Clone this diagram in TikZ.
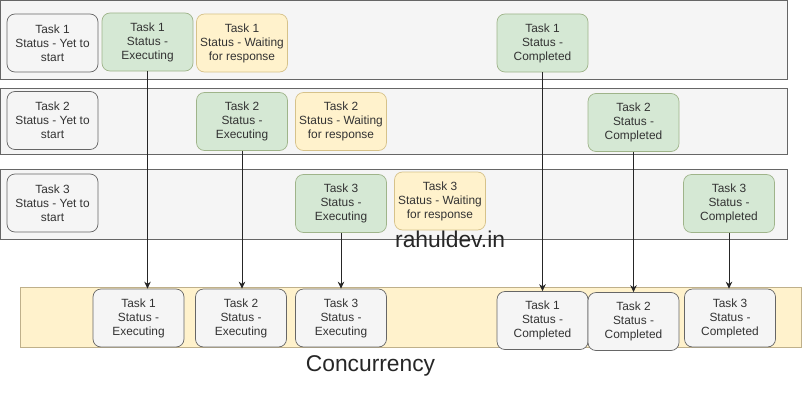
\documentclass[tikz,border=0pt]{standalone}
\usepackage{fontspec}
\setmainfont{Liberation Sans}
\usetikzlibrary{arrows.meta}
\definecolor{lanefill}{HTML}{F5F5F5}
\definecolor{lanedraw}{HTML}{666666}
\definecolor{greenfill}{HTML}{D5E8D4}
\definecolor{greendraw}{HTML}{9FB48A}
\definecolor{yellowfill}{HTML}{FFF2CC}
\definecolor{yellowdraw}{HTML}{D6C28A}
\definecolor{bandfill}{HTML}{FFF2CC}
\definecolor{banddraw}{HTML}{BFB08A}
\definecolor{txt}{HTML}{333333}
\tikzset{
  lane/.style={fill=lanefill, draw=lanedraw, line width=0.8pt},
  band/.style={fill=bandfill, draw=banddraw, line width=0.6pt},
  box/.style={rounded corners=8pt, minimum width=91pt, minimum height=58pt,
    inner sep=0pt, align=center, text=txt, line width=0.7pt,
    font=\fontsize{11.9}{14}\selectfont},
  greybox/.style={box, fill=lanefill, draw=lanedraw},
  greenbox/.style={box, fill=greenfill, draw=greendraw},
  waitbox/.style={box, fill=yellowfill, draw=yellowdraw},
  conn/.style={draw=black!85, line width=0.9pt, -{Stealth[length=7pt,width=6.5pt]}},
  bigtext/.style={font=\fontsize{22.8}{26}\selectfont, text=black!85, inner sep=0pt}
}
\begin{document}
\begin{tikzpicture}[x=1pt,y=-1pt]
\useasboundingbox[fill=white] (0,0) rectangle (802,404);
% lanes
\path[lane] (0.5,0.5) rectangle (787,79);
\path[lane] (0.5,88) rectangle (787,154);
\path[lane] (0.5,169) rectangle (787,239);
% bottom band
\path[band] (20,287) rectangle (801,347);
% lane 1
\node[greybox]  (t1y) at (52.5,43)  {Task 1\\Status - Yet to\\start};
\node[greenbox] (t1e) at (147.5,42) {Task 1\\Status -\\Executing};
\node[waitbox]  (t1w) at (242,43)   {Task 1\\Status - Waiting\\for response};
\node[greenbox] (t1c) at (542.5,43) {Task 1\\Status -\\Completed};
% lane 2
\node[greybox]  (t2y) at (52.5,120.5) {Task 2\\Status - Yet to\\start};
\node[greenbox] (t2e) at (242,121.5)  {Task 2\\Status -\\Executing};
\node[waitbox]  (t2w) at (341,121.5)  {Task 2\\Status - Waiting\\for response};
\node[greenbox] (t2c) at (633.5,122.5) {Task 2\\Status -\\Completed};
% lane 3
\node[greybox]  (t3y) at (52.5,203)  {Task 3\\Status - Yet to\\start};
\node[greenbox] (t3e) at (341,203.5) {Task 3\\Status -\\Executing};
\node[waitbox]  (t3w) at (440,201)   {Task 3\\Status - Waiting\\for response};
\node[greenbox] (t3c) at (729,203.5) {Task 3\\Status -\\Completed};
% bottom
\node[greybox] (b1e) at (138.5,318)  {Task 1\\Status -\\Executing};
\node[greybox] (b2e) at (241,318)    {Task 2\\Status -\\Executing};
\node[greybox] (b3e) at (341,318)    {Task 3\\Status -\\Executing};
\node[greybox] (b1c) at (542.5,320.5) {Task 1\\Status -\\Completed};
\node[greybox] (b2c) at (633.5,321.5) {Task 2\\Status -\\Completed};
\node[greybox] (b3c) at (730,318)    {Task 3\\Status -\\Completed};
% connectors
\draw[conn] (t1e.south) -- (t1e.south |- b1e.north);
\draw[conn] (t2e.south) -- (t2e.south |- b2e.north);
\draw[conn] (t3e.south) -- (t3e.south |- b3e.north);
\draw[conn] (t1c.south) -- (t1c.south |- b1c.north);
\draw[conn] (t2c.south) -- (t2c.south |- b2c.north);
\draw[conn] (t3c.south) -- (t3c.south |- b3c.north);
% texts
\node[bigtext, anchor=base west] (wm) at (395,247) {rahuldev.in};
\node[bigtext, anchor=base] (title) at (370.5,371) {Concurrency};
\end{tikzpicture}
\end{document}
